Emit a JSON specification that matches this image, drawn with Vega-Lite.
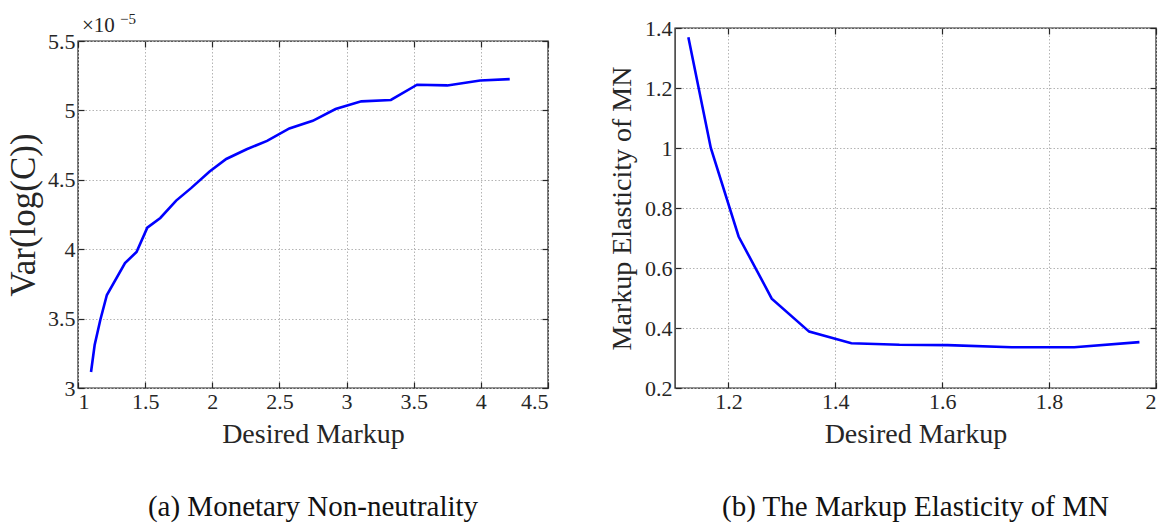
{
  "$schema": "https://vega.github.io/schema/vega-lite/v6.json",
  "background": "white",
  "padding": {"left": 5, "top": 12, "right": 0, "bottom": 0},
  "spacing": 57,
  "config": {
    "font": "Liberation Serif",
    "view": {"stroke": "#262626", "strokeWidth": 1.4},
    "axis": {
      "domain": false,
      "minExtent": 0,
      "tickColor": "#262626",
      "tickSize": -6,
      "tickWidth": 1.2,
      "labelPadding": 9,
      "labelFontSize": 22,
      "labelColor": "#262626",
      "labelFont": "Liberation Serif",
      "titleFont": "Liberation Serif",
      "titleFontWeight": "normal",
      "titleColor": "#262626",
      "titleFontSize": 28,
      "grid": true,
      "gridColor": "#b4b4b4",
      "gridDash": [1.5, 2],
      "gridWidth": 1
    },
    "title": {"font": "Liberation Serif", "fontSize": 29, "fontWeight": "normal", "color": "#111111", "frame": "group"}
  },
  "hconcat": [
    {
      "vconcat": [
        {
          "width": 470,
          "height": 13,
          "view": {"stroke": null},
          "data": {"values": [{"markup": 1, "pos": 0, "base": "×10", "exp": "−5"}]},
          "layer": [
            {
              "mark": {"type": "text", "align": "left", "baseline": "alphabetic", "dx": 4, "dy": -9, "fontSize": 21, "color": "#262626"},
              "encoding": {
                "x": {"field": "markup", "type": "quantitative", "scale": {"domain": [1, 4.5], "nice": false, "zero": false}, "axis": null},
                "y": {"field": "pos", "type": "quantitative", "scale": {"domain": [0, 1]}, "axis": null},
                "text": {"field": "base"}
              }
            },
            {
              "mark": {"type": "text", "align": "left", "baseline": "alphabetic", "dx": 42, "dy": -17, "fontSize": 15, "color": "#262626"},
              "encoding": {
                "x": {"field": "markup", "type": "quantitative", "scale": {"domain": [1, 4.5], "nice": false, "zero": false}, "axis": null},
                "y": {"field": "pos", "type": "quantitative", "scale": {"domain": [0, 1]}, "axis": null},
                "text": {"field": "exp"}
              }
            }
          ]
        },
        {
          "width": 470,
          "height": 347,
          "title": {"text": "(a) Monetary Non-neutrality", "orient": "bottom", "offset": 45, "anchor": "middle"},
          "data": {"values": [
            {"markup": 1.097, "var": 3.115e-5},
            {"markup": 1.124, "var": 3.31e-5},
            {"markup": 1.166, "var": 3.49e-5},
            {"markup": 1.215, "var": 3.67e-5},
            {"markup": 1.35, "var": 3.90e-5},
            {"markup": 1.436, "var": 3.98e-5},
            {"markup": 1.516, "var": 4.155e-5},
            {"markup": 1.613, "var": 4.225e-5},
            {"markup": 1.731, "var": 4.35e-5},
            {"markup": 1.842, "var": 4.44e-5},
            {"markup": 1.98, "var": 4.56e-5},
            {"markup": 2.104, "var": 4.65e-5},
            {"markup": 2.256, "var": 4.72e-5},
            {"markup": 2.408, "var": 4.78e-5},
            {"markup": 2.574, "var": 4.87e-5},
            {"markup": 2.748, "var": 4.925e-5},
            {"markup": 2.918, "var": 5.01e-5},
            {"markup": 3.11, "var": 5.065e-5},
            {"markup": 3.33, "var": 5.075e-5},
            {"markup": 3.525, "var": 5.185e-5},
            {"markup": 3.75, "var": 5.18e-5},
            {"markup": 3.995, "var": 5.215e-5},
            {"markup": 4.215, "var": 5.225e-5}
          ]},
          "layer": [
            {
              "mark": {"type": "line", "color": "#0000ff", "strokeWidth": 2.6},
              "encoding": {
                "x": {"field": "markup", "type": "quantitative",
                      "scale": {"domain": [1, 4.5], "nice": false, "zero": false},
                      "axis": {"values": [1, 1.5, 2, 2.5, 3, 3.5, 4, 4.5], "format": "~g", "title": "Desired Markup", "titlePadding": 8}},
                "y": {"field": "var", "type": "quantitative",
                      "scale": {"domain": [3e-5, 5.5e-5], "nice": false, "zero": false},
                      "axis": {"values": [3e-5, 3.5e-5, 4e-5, 4.5e-5, 5e-5, 5.5e-5], "labelExpr": "format(datum.value*1e5, '~g')", "title": "Var(log(C))", "titleFontSize": 35, "titlePadding": 6}}
              }
            },
            {
              "mark": {"type": "line", "strokeOpacity": 0},
              "encoding": {
                "x": {"field": "markup", "type": "quantitative", "scale": {"domain": [1, 4.5], "nice": false, "zero": false},
                      "axis": {"orient": "top", "values": [1, 1.5, 2, 2.5, 3, 3.5, 4, 4.5], "labels": false, "title": null, "grid": false, "maxExtent": 0}},
                "y": {"field": "var", "type": "quantitative", "scale": {"domain": [3e-5, 5.5e-5], "nice": false, "zero": false},
                      "axis": {"orient": "right", "values": [3e-5, 3.5e-5, 4e-5, 4.5e-5, 5e-5, 5.5e-5], "labels": false, "title": null, "grid": false, "maxExtent": 0}}
              }
            }
          ],
          "resolve": {"axis": {"x": "independent", "y": "independent"}}
        }
      ],
      "spacing": 0,
      "bounds": "flush"
    },
    {
      "width": 481,
      "height": 360,
      "title": {"text": "(b) The Markup Elasticity of MN", "orient": "bottom", "offset": 45, "anchor": "middle"},
      "data": {"values": [
        {"markup": 1.125, "elasticity": 1.369},
        {"markup": 1.167, "elasticity": 1.0},
        {"markup": 1.219, "elasticity": 0.705},
        {"markup": 1.281, "elasticity": 0.498},
        {"markup": 1.351, "elasticity": 0.388},
        {"markup": 1.43, "elasticity": 0.349},
        {"markup": 1.52, "elasticity": 0.344},
        {"markup": 1.61, "elasticity": 0.343},
        {"markup": 1.73, "elasticity": 0.336},
        {"markup": 1.847, "elasticity": 0.336},
        {"markup": 1.969, "elasticity": 0.353}
      ]},
      "layer": [
        {
          "mark": {"type": "line", "color": "#0000ff", "strokeWidth": 2.6},
          "encoding": {
            "x": {"field": "markup", "type": "quantitative",
                  "scale": {"domain": [1.1, 2], "nice": false, "zero": false},
                  "axis": {"values": [1.2, 1.4, 1.6, 1.8, 2], "format": "~g", "title": "Desired Markup", "titlePadding": 8}},
            "y": {"field": "elasticity", "type": "quantitative",
                  "scale": {"domain": [0.2, 1.4], "nice": false, "zero": false},
                  "axis": {"values": [0.2, 0.4, 0.6, 0.8, 1, 1.2, 1.4], "format": "~g", "title": "Markup Elasticity of MN", "titleFontSize": 28, "titlePadding": 8}}
          }
        },
        {
          "mark": {"type": "line", "strokeOpacity": 0},
          "encoding": {
            "x": {"field": "markup", "type": "quantitative", "scale": {"domain": [1.1, 2], "nice": false, "zero": false},
                  "axis": {"orient": "top", "values": [1.2, 1.4, 1.6, 1.8, 2], "labels": false, "title": null, "grid": false, "maxExtent": 0}},
            "y": {"field": "elasticity", "type": "quantitative", "scale": {"domain": [0.2, 1.4], "nice": false, "zero": false},
                  "axis": {"orient": "right", "values": [0.2, 0.4, 0.6, 0.8, 1, 1.2, 1.4], "labels": false, "title": null, "grid": false, "maxExtent": 0}}
          }
        }
      ],
      "resolve": {"axis": {"x": "independent", "y": "independent"}}
    }
  ]
}
